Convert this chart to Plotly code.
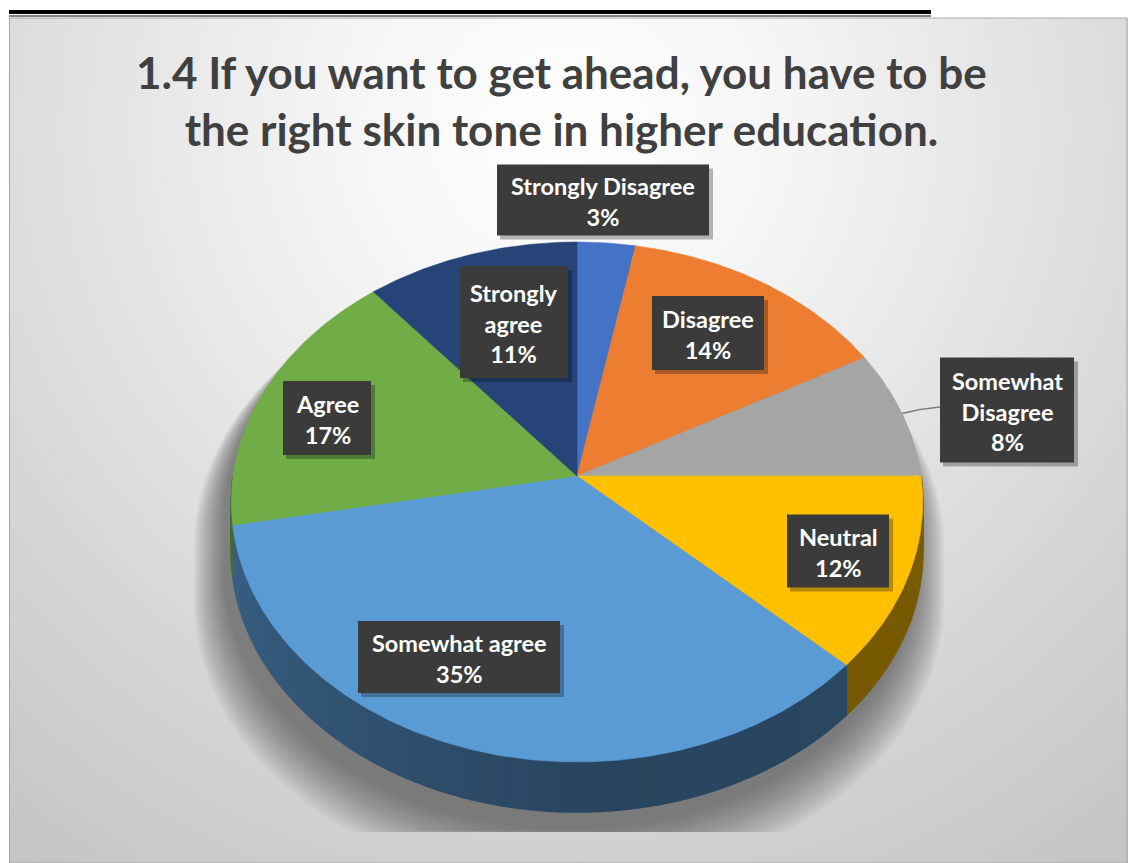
import base64
import numpy as np
import plotly.graph_objects as go

# ---- data -------------------------------------------------------------
labels = ["Strongly Disagree", "Disagree", "Somewhat Disagree", "Neutral",
          "Somewhat agree", "Agree", "Strongly agree"]
values = [3, 14, 8, 12, 35, 17, 11]
label_text = ["Strongly Disagree", "Disagree", "Somewhat<br>Disagree", "Neutral",
              "Somewhat agree", "Agree", "Strongly<br>agree"]
title_lines = ["1.4 If you want to get ahead, you have to be",
               "the right skin tone in higher education."]

# ---- styling / layout ---------------------------------------------------
slice_colors = ["#4472C4", "#ED7D31", "#A5A5A5", "#FFC000",
                "#5B9BD5", "#70AD47", "#264478"]
# data-label boxes: centre x, centre y, width, height (px)
label_boxes = [(603, 200, 212, 71), (708, 333, 112, 74), (1007, 410, 134, 105),
               (838, 551, 102, 73), (459, 657, 202, 72), (327, 418, 88, 74),
               (514, 322, 108, 112)]
leader_slices = [2]          # slices whose label sits outside the pie
FONT = "Lato"

W, H = 1128, 863
CX, CY = 577, 476            # projected pie centre
RX, RY, PERSP = 344, 257.4, 0.10
DEPTH = 50
FLOOR = 832


def proj(theta_deg, r=1.0, drop=0.0):
    t = np.radians(theta_deg)
    d = 1 + PERSP * r * np.cos(t)
    x = CX + RX * r * np.sin(t) / d
    y = CY - RY * r * np.cos(t) / d + drop
    return x, y


def hex_rgb(h):
    h = h.lstrip("#")
    return tuple(int(h[i:i + 2], 16) for i in (0, 2, 4))


def side_shade(theta):
    if theta >= 175:
        return 0.44 + 0.18 * min(1.0, (theta - 175) / 85)
    return 0.44 + 0.04 * (175 - theta) / 85


fig = go.Figure()

# cumulative angles, clockwise from 12 o'clock
total = float(sum(values))
edges = np.concatenate([[0.0], np.cumsum(values) / total * 360.0])

# ---- soft floor shadow (falls down and to the left) ----------------------
back = np.linspace(264, 456, 120) % 360
front = np.linspace(96, 264, 120)
bx, by = proj(back)
fx, fy = proj(front, drop=DEPTH)
sil_x = np.concatenate([bx, fx])
sil_y = np.concatenate([by, fy])
mx, my = CX, CY + DEPTH / 2
for i in range(18):
    s = 1.0 + 0.005 * i
    xs = mx + (sil_x - mx) * s - 8
    ys = my + (sil_y - my) * s + 18 + 1.6 * i
    ys = np.minimum(ys, FLOOR)
    fig.add_trace(go.Scatter(x=xs, y=ys, mode="lines", fill="toself",
                             fillcolor="rgba(60,60,60,0.04)",
                             line=dict(width=0), hoverinfo="skip",
                             showlegend=False))

# ---- pie sides (front half only) ----------------------------------------
for i, col in enumerate(slice_colors):
    a0, a1 = max(edges[i], 90.0), min(edges[i + 1], 270.0)
    if a1 <= a0:
        continue
    n = max(1, int(np.ceil((a1 - a0) / 1.5)))
    steps = np.linspace(a0, a1, n + 1)
    base = hex_rgb(col)
    for s0, s1 in zip(steps[:-1], steps[1:]):
        t = np.linspace(s0, s1, 4)
        tx, ty = proj(t)
        bx2, by2 = proj(t[::-1], drop=DEPTH)
        k = side_shade((s0 + s1) / 2)
        c = "rgb({},{},{})".format(*[int(round(v * k)) for v in base])
        fig.add_trace(go.Scatter(x=np.concatenate([tx, bx2, tx[:1]]),
                                 y=np.concatenate([ty, by2, ty[:1]]),
                                 mode="lines", fill="toself", fillcolor=c,
                                 line=dict(width=1.6, color=c),
                                 hoverinfo="skip", showlegend=False))

# ---- pie top face ----------------------------------------------------------
for i, col in enumerate(slice_colors):
    t = np.linspace(edges[i], edges[i + 1], max(4, int((edges[i + 1] - edges[i]) * 2)))
    ax, ay = proj(t)
    fig.add_trace(go.Scatter(x=np.concatenate([[CX], ax, [CX]]),
                             y=np.concatenate([[CY], ay, [CY]]),
                             mode="lines", fill="toself", fillcolor=col,
                             line=dict(width=0.6, color=col),
                             name=labels[i], hoverinfo="name",
                             showlegend=False))

# ---- data labels -------------------------------------------------------------
shapes = []
annotations = []
for i, (bxc, byc, bw, bh) in enumerate(label_boxes):
    if i in leader_slices:
        mid = (edges[i] + edges[i + 1]) / 2
        px, py = proj(mid)
        fig.add_trace(go.Scatter(x=[px, px + 18, bxc - bw / 2],
                                 y=[py, py - 4, byc - 3],
                                 mode="lines", line=dict(color="#7f7f7f", width=1.5),
                                 hoverinfo="skip", showlegend=False))
    shapes.append(dict(type="rect", xref="x", yref="y", layer="above",
                       x0=bxc - bw / 2 + 3, x1=bxc + bw / 2 + 4,
                       y0=byc - bh / 2 + 4, y1=byc + bh / 2 + 4,
                       fillcolor="rgba(0,0,0,0.28)", line=dict(width=0)))
    shapes.append(dict(type="rect", xref="x", yref="y", layer="above",
                       x0=bxc - bw / 2, x1=bxc + bw / 2,
                       y0=byc - bh / 2, y1=byc + bh / 2,
                       fillcolor="#3b3b3b", line=dict(width=0)))
    annotations.append(dict(x=bxc, y=byc + 1, xref="x", yref="y", showarrow=False,
                            text=f"{label_text[i]}<br>{values[i]}%",
                            font=dict(family=FONT, size=23.5, color="white",
                                      weight="bold"),
                            align="center", xanchor="center", yanchor="middle"))

# ---- title -------------------------------------------------------------------------
annotations.append(dict(x=561, y=100, xref="x", yref="y", showarrow=False,
                        text="<br>".join(title_lines),
                        font=dict(family=FONT, size=44, color="#404040",
                                  weight="bold"),
                        align="center", xanchor="center", yanchor="middle"))

# ---- frame: double rule on top, grey panel ----------------------------------------
shapes.append(dict(type="line", xref="x", yref="y", x0=9, x1=931, y0=12, y1=12,
                   line=dict(color="black", width=4), layer="above"))
shapes.append(dict(type="line", xref="x", yref="y", x0=9, x1=931, y0=16, y1=16,
                   line=dict(color="black", width=1.2), layer="above"))
shapes.append(dict(type="rect", xref="x", yref="y", x0=9.5, x1=1127, y0=18, y1=863,
                   line=dict(color="#a8a8a8", width=1), layer="below"))

grad_svg = (
    "<svg xmlns='http://www.w3.org/2000/svg' width='1119' height='845' "
    "viewBox='0 0 1119 845'><defs><radialGradient id='g' gradientUnits='userSpaceOnUse' "
    "cx='555' cy='110' r='900'>"
    "<stop offset='0' stop-color='#ffffff'/>"
    "<stop offset='0.25' stop-color='#f5f5f5'/>"
    "<stop offset='0.7' stop-color='#d7d7d7'/>"
    "<stop offset='1' stop-color='#c5c5c5'/>"
    "</radialGradient></defs><rect width='1119' height='845' fill='url(#g)'/></svg>"
)
grad_uri = "data:image/svg+xml;base64," + base64.b64encode(grad_svg.encode()).decode()

fig.update_layout(
    width=W, height=H,
    margin=dict(l=0, r=0, t=0, b=0),
    paper_bgcolor="white", plot_bgcolor="rgba(0,0,0,0)",
    xaxis=dict(range=[0, W], visible=False, fixedrange=True),
    yaxis=dict(range=[H, 0], visible=False, fixedrange=True),
    shapes=shapes, annotations=annotations,
    images=[dict(source=grad_uri, xref="paper", yref="paper",
                 x=9 / W, y=1 - 18 / H, sizex=1119 / W, sizey=845 / H,
                 xanchor="left", yanchor="top", sizing="stretch", layer="below")],
    showlegend=False,
)

fig.write_html("out.html")
